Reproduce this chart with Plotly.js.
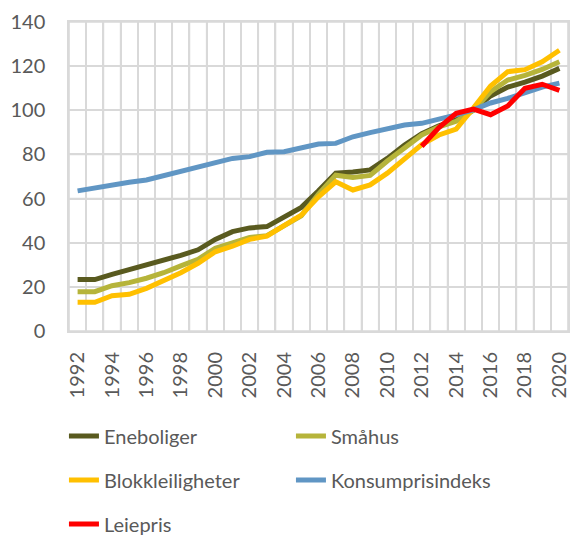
<!DOCTYPE html>
<html>
<head>
<meta charset="utf-8">
<script src="https://cdn.plot.ly/plotly-3.0.1.min.js"></script>
<style>html,body{margin:0;padding:0;background:#fff;}#chart{width:571px;height:536px;}</style>
</head>
<body>
<div id="chart"></div>
<script>
const years = [1992,1993,1994,1995,1996,1997,1998,1999,2000,2001,2002,2003,2004,2005,2006,2007,2008,2009,2010,2011,2012,2013,2014,2015,2016,2017,2018,2019,2020];
const eneboliger = [23.3,23.3,25.7,27.8,29.8,32.1,34.3,36.8,41.5,45,46.7,47.3,51.7,56,63.5,71.5,72,73,78.2,84.3,89.4,93,95.7,100,106.5,110.5,112.8,115.5,119];
const smahus = [17.8,17.8,20.5,21.9,23.9,26.4,29.5,32.5,37.5,40,42.4,43.2,48,52.2,62,70.6,69.6,70.5,77,82.8,88.8,92.5,95,100,108.4,113.7,115.8,118.5,122];
const blokk = [13,13,16,16.6,19.3,22.7,26.4,30.7,35.9,38.4,41.5,43,47.5,52.5,60.8,67.6,63.9,66.2,71.5,78,84.5,88.8,91.5,101,111,117.5,118.4,122,127.2];
const kpi = [63.5,64.9,66,67.4,68.4,70.4,72,74,76.4,78.2,79,81,81.2,82.8,84.7,85,88,89.9,91.8,93.3,94.1,95.9,97.9,100.2,103.3,105.4,108,110.5,112.3];
const leieYears = [2012,2013,2014,2015,2016,2017,2018,2019,2020];
const leiepris = [83.7,92.2,98.6,100.5,98,102,110,111.8,109];
const seriesNames = ['Eneboliger','Småhus','Blokkleiligheter','Konsumprisindeks','Leiepris'];
const colors = ['#595a1f','#b6b43a','#ffc000','#6096c4','#ff0000'];
const xTicks = [1992,1994,1996,1998,2000,2002,2004,2006,2008,2010,2012,2014,2016,2018,2020];
const yTicks = [0,20,40,60,80,100,120,140];

const xRange = [years[0] - 0.5, years[years.length - 1] + 0.5];
const yRange = [yTicks[0], yTicks[yTicks.length - 1]];
const grid = '#d9d9d9';

// grid lines between the year categories and at every y tick (drawn as faint traces)
const gx = [], gy = [];
for (let k = 0; k <= years.length; k++) {
  const xv = years[0] - 0.5 + k;
  gx.push(xv, xv, null); gy.push(yRange[0], yRange[1], null);
}
yTicks.forEach(v => { gx.push(xRange[0], xRange[1], null); gy.push(v, v, null); });
const gridTrace = {
  x: gx, y: gy, type: 'scatter', mode: 'lines', showlegend: false, hoverinfo: 'skip',
  line: {color: grid, width: 1.6}, xaxis: 'x', yaxis: 'y', connectgaps: false
};

const mk = (x, y, i, leg, xa) => ({
  x: x, y: y, type: 'scatter', mode: 'lines', name: seriesNames[i],
  line: {color: colors[i], width: 5, shape: 'linear'},
  legend: leg, hoverinfo: 'skip', xaxis: xa, yaxis: 'y'
});
const data = [
  gridTrace,
  mk(years, eneboliger, 0, 'legend', 'x'),
  mk(years, smahus, 1, 'legend', 'x'),
  mk(years, blokk, 2, 'legend2', 'x'),
  mk(years, kpi, 3, 'legend2', 'x'),
  mk(leieYears, leiepris, 4, 'legend3', 'x2')
];
const mkFont = () => ({family: 'Lato, "Open Sans", sans-serif', size: 20, color: '#595959'});
const legBase = (y) => ({
  orientation: 'h', xref: 'container', x: 0.112, xanchor: 'left',
  yref: 'container', y: y, yanchor: 'middle',
  entrywidth: 182, entrywidthmode: 'pixels', font: mkFont(), bgcolor: 'rgba(0,0,0,0)',
  itemclick: false, itemdoubleclick: false
});
const layout = {
  width: 571, height: 536,
  margin: {l: 69, r: 3, t: 22, b: 205, autoexpand: false},
  paper_bgcolor: '#ffffff', plot_bgcolor: '#ffffff',
  font: mkFont(),
  showlegend: true,
  xaxis: {
    type: 'linear', range: xRange,
    tickmode: 'linear', tick0: xRange[0], dtick: 1, showticklabels: false,
    showgrid: true, gridcolor: grid, gridwidth: 1.5, ticks: '',
    showline: true, mirror: true, linecolor: grid, linewidth: 1.5,
    zeroline: false
  },
  xaxis2: {
    type: 'linear', range: xRange, overlaying: 'x', anchor: 'y', side: 'bottom',
    tickmode: 'array', tickvals: xTicks, ticktext: xTicks.map(String),
    tickangle: -90, showgrid: false, ticks: 'outside', ticklen: 12, tickcolor: 'rgba(0,0,0,0)',
    showline: false, zeroline: false, tickfont: mkFont()
  },
  yaxis: {
    range: yRange, tickmode: 'array', tickvals: yTicks, ticktext: yTicks.map(String),
    showgrid: true, gridcolor: grid, gridwidth: 1.5,
    ticks: 'outside', ticklen: 18, tickcolor: 'rgba(0,0,0,0)',
    showline: true, mirror: true, linecolor: grid, linewidth: 1.5,
    zeroline: false, tickfont: mkFont()
  },
  legend: legBase(1 - 436/536),
  legend2: legBase(1 - 480/536),
  legend3: legBase(1 - 524/536)
};
Plotly.newPlot('chart', data, layout, {displayModeBar: false});
</script>
</body>
</html>
